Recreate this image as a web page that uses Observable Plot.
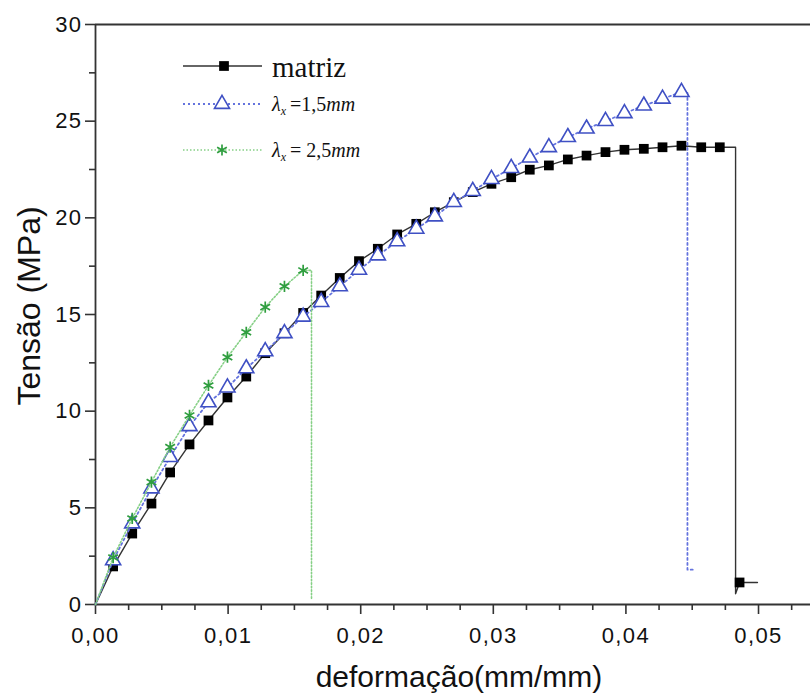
<!DOCTYPE html>
<html><head><meta charset="utf-8">
<script src="https://cdn.jsdelivr.net/npm/d3@7"></script>
<script src="https://cdn.jsdelivr.net/npm/@observablehq/plot@0.6"></script>
<style>
body{margin:0;background:#fff;}
#wrap{position:relative;width:810px;height:695px;overflow:hidden;background:#fff;}
#legend{position:absolute;left:0;top:0;pointer-events:none;}
</style></head><body><div id="wrap"></div>
<script>
// strain values (mm/mm) shared by the three series
const strain = [0, 0.00133, 0.00277, 0.00422, 0.00563, 0.00709, 0.00852, 0.00995, 0.01137, 0.0128,
  0.01425, 0.01566, 0.01702, 0.01842, 0.01987, 0.02129, 0.02275, 0.02419, 0.02559, 0.02702,
  0.02845, 0.02986, 0.03135, 0.03275, 0.03419, 0.03562, 0.03703, 0.03846, 0.03989, 0.04135,
  0.04276, 0.04419, 0.04568, 0.04708];
// stress (MPa)
const stressMatriz = [0, 1.97, 3.67, 5.22, 6.83, 8.28, 9.52, 10.71, 11.79, 13.0,
  14.03, 15.08, 15.98, 16.89, 17.76, 18.40, 19.14, 19.69, 20.29, 20.81,
  21.33, 21.76, 22.10, 22.49, 22.71, 23.02, 23.22, 23.40, 23.52, 23.57,
  23.65, 23.73, 23.65, 23.65];
const stressL15 = [0, 2.28, 4.19, 6.0, 7.62, 9.22, 10.45, 11.22, 12.21, 13.09,
  14.03, 14.88, 15.64, 16.45, 17.31, 18.05, 18.78, 19.43, 20.07, 20.81,
  21.38, 22.0, 22.57, 23.11, 23.65, 24.17, 24.61, 25.0, 25.41, 25.8,
  26.16, 26.5];
const stressL25 = [0, 2.43, 4.45, 6.33, 8.14, 9.78, 11.33, 12.79, 14.08, 15.38, 16.46, 17.28];
// rupture tails
const tailMatrizX = [0.04708, 0.04827, 0.04827, 0.04857, 0.04992];
const tailMatrizY = [23.65, 23.65, 0.55, 1.14, 1.14];
const tailL15X = [0.04419, 0.04464, 0.04464, 0.0452];
const tailL15Y = [26.5, 26.5, 1.8, 1.8];
const tailL25X = [0.01566, 0.01629, 0.01629];
const tailL25Y = [17.28, 17.28, 0.3];
// ticks
const xTicks = [0, 0.01, 0.02, 0.03, 0.04, 0.05];
const xMinor = [0.0025, 0.005, 0.0075, 0.0125, 0.015, 0.0175, 0.0225, 0.025, 0.0275, 0.0325, 0.035, 0.0375, 0.0425, 0.045, 0.0475, 0.0525];
const yTicks = [0, 5, 10, 15, 20, 25, 30];
const yMinor = [2.5, 7.5, 12.5, 17.5, 22.5, 27.5];
const xLabel = "deformação(mm/mm)";
const yLabel = "Tensão (MPa)";
const seriesNames = ["matriz", "1,5", "2,5"];

const colM = "#000", colB = "#3f50c4", colBl = "#6473de", colG = "#2f9e3f", colGl = "#86d086";

const pts = (ys) => ys.map((y, i) => ({x: strain[i], y}));
const tail = (xs, ys) => xs.map((x, i) => ({x, y: ys[i]}));
const M = pts(stressMatriz), B = pts(stressL15), G = pts(stressL25);
const Mline = M.concat(tail(tailMatrizX, tailMatrizY).slice(1));
const Bline = B.concat(tail(tailL15X, tailL15Y).slice(1));
const Gline = G.concat(tail(tailL25X, tailL25Y).slice(1));
const Mend = [tail(tailMatrizX, tailMatrizY)[3]];

const fmtX = d => d.toFixed(2).replace(".", ",");
const axisCol = "#333";

const chart = Plot.plot({
  width: 810, height: 695,
  marginLeft: 95, marginRight: 0, marginTop: 24, marginBottom: 91,
  x: {domain: [0, 0.05392]},
  y: {domain: [0, 30]},
  style: {fontFamily: "'Liberation Sans', Arial, sans-serif", fontSize: "22px", color: "#111", background: "white", overflow: "visible"},
  marks: [
    Plot.axisX(xMinor, {tickSize: 6, text: null, label: null, stroke: axisCol, strokeWidth: 1.6}),
    Plot.axisX(xTicks, {tickSize: 10, tickPadding: 13, tickFormat: fmtX, label: null, stroke: axisCol, strokeWidth: 1.6}),
    Plot.axisY(yMinor, {tickSize: 6, text: null, label: null, stroke: axisCol, strokeWidth: 1.6}),
    Plot.axisY(yTicks, {tickSize: 10, tickPadding: 3, tickFormat: d => String(d), label: null, stroke: axisCol, strokeWidth: 1.6}),
    Plot.ruleX([0], {stroke: axisCol, strokeWidth: 1.8}),
    Plot.ruleY([0, 30], {stroke: axisCol, strokeWidth: 1.8}),
    Plot.line(Mline, {x: "x", y: "y", stroke: "#333", strokeWidth: 1.4}),
    Plot.dot(M.slice(1), {x: "x", y: "y", symbol: "square", r: 5.5, fill: colM}),
    Plot.dot(Mend, {x: "x", y: "y", symbol: "square", r: 5.5, fill: colM}),
    Plot.line(Bline, {x: "x", y: "y", stroke: colBl, strokeWidth: 1.8, strokeDasharray: "2,3"}),
    Plot.dot(B.slice(1), {x: "x", y: "y", symbol: "triangle", r: 5.6, fill: "white", stroke: colB, strokeWidth: 1.6}),
    Plot.line(Gline, {x: "x", y: "y", stroke: colGl, strokeWidth: 1.6, strokeDasharray: "1.5,2"}),
    Plot.dot(G.slice(1), {x: "x", y: "y", symbol: "asterisk", r: 5.3, stroke: colG, strokeWidth: 1.7})
  ]
});
document.getElementById("wrap").appendChild(chart);

const svg = d3.select(chart);
svg.selectAll('g[aria-label="x-axis tick label"] text, g[aria-label="y-axis tick label"] text')
  .style("letter-spacing", "1.4px");
svg.append("text").attr("x", 459).attr("y", 687).attr("text-anchor", "middle")
  .attr("font-size", 30).attr("fill", "#111").text(xLabel);
svg.append("text").attr("transform", "translate(40,306) rotate(-90)").attr("text-anchor", "middle")
  .attr("font-size", 32).attr("fill", "#111").text(yLabel);

// legend overlay
const lg = d3.select("#wrap").append("svg").attr("id", "legend").attr("width", 810).attr("height", 695);
lg.append("line").attr("x1", 183).attr("x2", 262).attr("y1", 66).attr("y2", 66).attr("stroke", "#333").attr("stroke-width", 1.4);
lg.append("path").attr("d", d3.symbol(d3.symbolSquare, Math.PI * 5.5 * 5.5)()).attr("transform", "translate(224,66)").attr("fill", colM);
lg.append("text").attr("x", 272).attr("y", 77).attr("font-family", "'Liberation Serif', 'Times New Roman', serif")
  .attr("font-size", 29).attr("fill", "#111").text(seriesNames[0]);

lg.append("line").attr("x1", 183).attr("x2", 262).attr("y1", 104).attr("y2", 104).attr("stroke", colBl).attr("stroke-width", 1.8).attr("stroke-dasharray", "2,3");
lg.append("path").attr("d", d3.symbol(d3.symbolTriangle, Math.PI * 5.6 * 5.6)()).attr("transform", "translate(222,104)").attr("fill", "white").attr("stroke", colB).attr("stroke-width", 1.6);
lg.append("line").attr("x1", 183).attr("x2", 262).attr("y1", 150).attr("y2", 150).attr("stroke", colGl).attr("stroke-width", 1.6).attr("stroke-dasharray", "1.5,2");
lg.append("path").attr("d", d3.symbol(d3.symbolAsterisk, Math.PI * 5.3 * 5.3)()).attr("transform", "translate(222,150)").attr("fill", "none").attr("stroke", colG).attr("stroke-width", 1.7);

function lambdaText(y, val, gap) {
  const t = lg.append("text").attr("x", 272).attr("y", y).attr("font-family", "'Liberation Serif', 'Times New Roman', serif")
    .attr("font-size", 20).attr("fill", "#111");
  t.append("tspan").attr("font-style", "italic").text("λ");
  t.append("tspan").attr("font-style", "italic").attr("font-size", 12).attr("dy", 4).text("x");
  t.append("tspan").attr("dy", -4).attr("dx", 4).text("=" + gap + val);
  t.append("tspan").attr("font-style", "italic").text("mm");
}
lambdaText(111, seriesNames[1], "");
lambdaText(157, seriesNames[2], " ");
</script></body></html>
